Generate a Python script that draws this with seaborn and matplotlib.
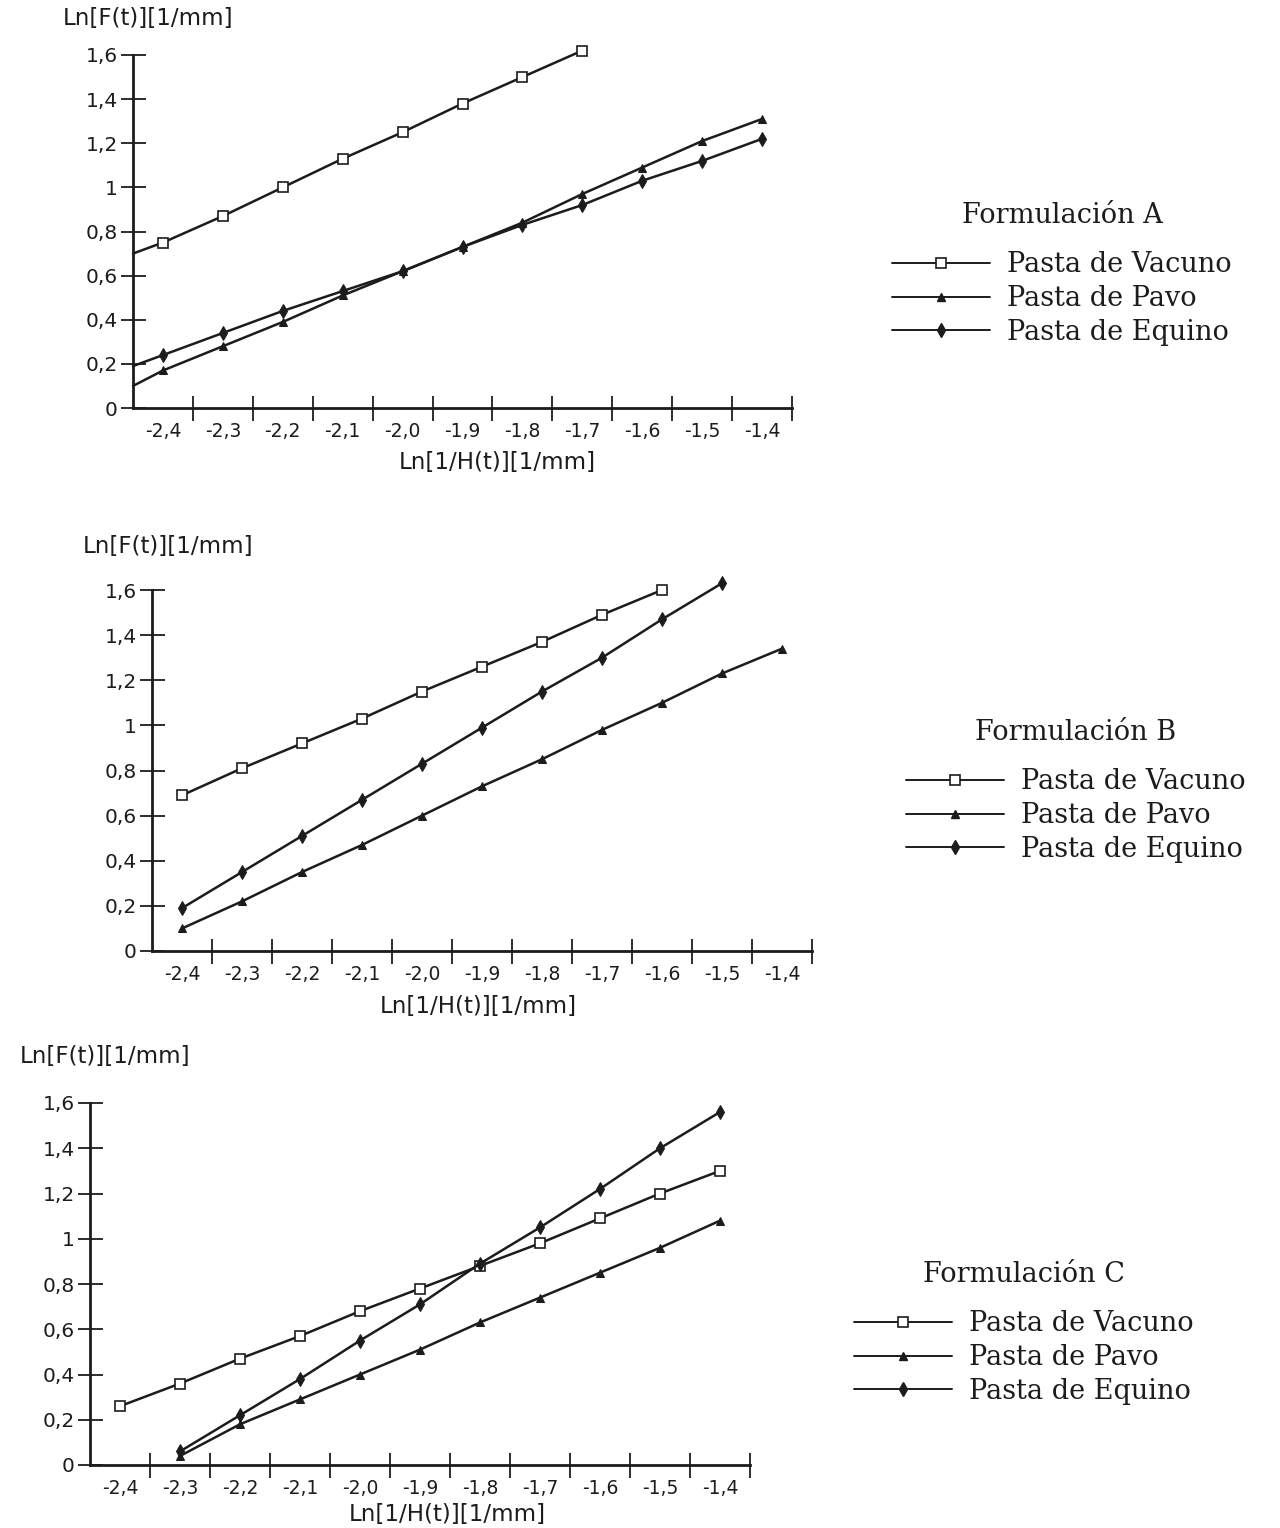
import matplotlib
matplotlib.use("Agg")
import matplotlib.pyplot as plt
from matplotlib.lines import Line2D
import seaborn as sns

sns.set_theme(style="white")
plt.rcParams["font.family"] = ["DejaVu Sans"]

# Category positions on the Ln[1/H(t)] axis and their labels
x_values = [-2.4, -2.3, -2.2, -2.1, -2.0, -1.9, -1.8, -1.7, -1.6, -1.5, -1.4]
x_labels = ["-2,4", "-2,3", "-2,2", "-2,1", "-2,0", "-1,9", "-1,8", "-1,7",
            "-1,6", "-1,5", "-1,4"]
y_ticks = [0, 0.2, 0.4, 0.6, 0.8, 1.0, 1.2, 1.4, 1.6]
y_labels = ["0", "0,2", "0,4", "0,6", "0,8", "1", "1,2", "1,4", "1,6"]
series = ["Pasta de Vacuno", "Pasta de Pavo", "Pasta de Equino"]

# Formulación A
a_vacuno = [0.75, 0.87, 1.00, 1.13, 1.25, 1.38, 1.50, 1.62]           # -2.4 .. -1.7
a_pavo = [0.17, 0.28, 0.39, 0.51, 0.62, 0.73, 0.84, 0.97, 1.09, 1.21, 1.31]
a_equino = [0.24, 0.34, 0.44, 0.53, 0.62, 0.73, 0.83, 0.92, 1.03, 1.12, 1.22]
a_axis_start = [0.70, 0.10, 0.19]   # values where the lines meet the y axis

# Formulación B
b_vacuno = [0.69, 0.81, 0.92, 1.03, 1.15, 1.26, 1.37, 1.49, 1.60]      # -2.4 .. -1.6
b_pavo = [0.10, 0.22, 0.35, 0.47, 0.60, 0.73, 0.85, 0.98, 1.10, 1.23, 1.34]
b_equino = [0.19, 0.35, 0.51, 0.67, 0.83, 0.99, 1.15, 1.30, 1.47, 1.63]  # -2.4 .. -1.5

# Formulación C
c_vacuno = [0.26, 0.36, 0.47, 0.57, 0.68, 0.78, 0.88, 0.98, 1.09, 1.20, 1.30]
c_pavo = [0.04, 0.18, 0.29, 0.40, 0.51, 0.63, 0.74, 0.85, 0.96, 1.08]   # -2.3 .. -1.4
c_equino = [0.06, 0.22, 0.38, 0.55, 0.71, 0.89, 1.05, 1.22, 1.40, 1.56]

INK = "#1c1c1c"
X_LEFT = -2.45
X_RIGHT = -1.35
marker_styles = [
    dict(marker="s", markersize=7, markerfacecolor="white", markeredgecolor=INK,
         markeredgewidth=1.2),
    dict(marker="^", markersize=6, markerfacecolor=INK, markeredgecolor=INK),
    dict(marker="d", markersize=7, markerfacecolor=INK, markeredgecolor=INK),
]
LEGEND_FONT = {"family": "DejaVu Serif", "size": 19.5}
AXIS_TITLE_SIZE = 16.5

fig = plt.figure(figsize=(12.8, 15.28), dpi=100)
W, H = 1280.0, 1528.0


def make_axes(x0, x1, y_zero, y_top):
    return fig.add_axes([x0 / W, 1 - y_zero / H, (x1 - x0) / W, (y_zero - y_top) / H])


def style_axes(ax):
    ax.set_xlim(X_LEFT, X_RIGHT)
    ax.set_ylim(0, 1.6)
    for side in ("top", "right"):
        ax.spines[side].set_visible(False)
    for side in ("left", "bottom"):
        ax.spines[side].set_color(INK)
        ax.spines[side].set_linewidth(2.0)
    # tick marks sit on the category boundaries, labels in the middle
    bounds = [X_LEFT + 0.1 * k for k in range(1, 12)]
    ax.set_xticks(bounds)
    ax.set_xticklabels([])
    ax.set_xticks(x_values, minor=True)
    ax.set_xticklabels(x_labels, minor=True, fontsize=13.5, color=INK)
    ax.set_yticks(y_ticks)
    ax.set_yticklabels(y_labels, fontsize=14.5, color=INK)
    ax.tick_params(axis="both", which="major", direction="inout", length=18,
                   width=1.3, color=INK, bottom=True, left=True)
    ax.tick_params(axis="x", which="minor", length=0, pad=10, bottom=True)
    ax.tick_params(axis="y", which="major", pad=2)
    ax.set_xlabel("")
    ax.set_ylabel("")
    ax.grid(False)


def draw_series(ax, xs, ys, style, markevery=None):
    kw = dict(style)
    if markevery is not None:
        kw["markevery"] = markevery
    sns.lineplot(x=xs, y=ys, ax=ax, color=INK, linewidth=1.8, estimator=None,
                 sort=False, clip_on=False, legend=False, **kw)


def add_legend(ax, title, cx, cy):
    handles = [Line2D([0], [0], color=INK, linewidth=1.4, **s) for s in marker_styles]
    leg = ax.legend(handles, series, title=title, loc="center",
                    bbox_to_anchor=(cx / W, 1 - cy / H), bbox_transform=fig.transFigure,
                    frameon=False, handlelength=3.6, handletextpad=0.65,
                    labelspacing=0.25, borderpad=0, prop=LEGEND_FONT)
    leg.get_title().set_fontfamily(LEGEND_FONT["family"])
    leg.get_title().set_fontsize(LEGEND_FONT["size"])
    leg.get_title().set_color(INK)
    leg._legend_box.sep = 16
    for t in leg.get_texts():
        t.set_color(INK)


def axis_titles(y_xy, x_xy):
    fig.text(y_xy[0] / W, 1 - y_xy[1] / H, "Ln[F(t)][1/mm]", ha="center", va="center",
             fontsize=AXIS_TITLE_SIZE, color=INK)
    fig.text(x_xy[0] / W, 1 - x_xy[1] / H, "Ln[1/H(t)][1/mm]", ha="center",
             va="center", fontsize=AXIS_TITLE_SIZE, color=INK)


# ---- Formulación A ----
ax_a = make_axes(133, 792, 408, 55)
style_axes(ax_a)
a_sets = [a_vacuno, a_pavo, a_equino]
for vals, start, style in zip(a_sets, a_axis_start, marker_styles):
    xs = [X_LEFT] + x_values[:len(vals)]
    draw_series(ax_a, xs, [start] + vals, style, markevery=slice(1, None))
add_legend(ax_a, "Formulación A", 1062, 274)
axis_titles((148, 18), (497, 462))

# ---- Formulación B ----
ax_b = make_axes(152, 812, 951, 590)
style_axes(ax_b)
for vals, style in zip([b_vacuno, b_pavo, b_equino], marker_styles):
    draw_series(ax_b, x_values[:len(vals)], vals, style)
add_legend(ax_b, "Formulación B", 1076, 791)
axis_titles((168, 547), (478, 1006))

# ---- Formulación C ----
ax_c = make_axes(90, 750, 1465, 1103)
style_axes(ax_c)
draw_series(ax_c, x_values, c_vacuno, marker_styles[0])
draw_series(ax_c, x_values[1:], c_pavo, marker_styles[1])
draw_series(ax_c, x_values[1:], c_equino, marker_styles[2])
add_legend(ax_c, "Formulación C", 1024, 1333)
axis_titles((105, 1057), (447, 1515))

fig.savefig("out.png", dpi=100, facecolor="white")
